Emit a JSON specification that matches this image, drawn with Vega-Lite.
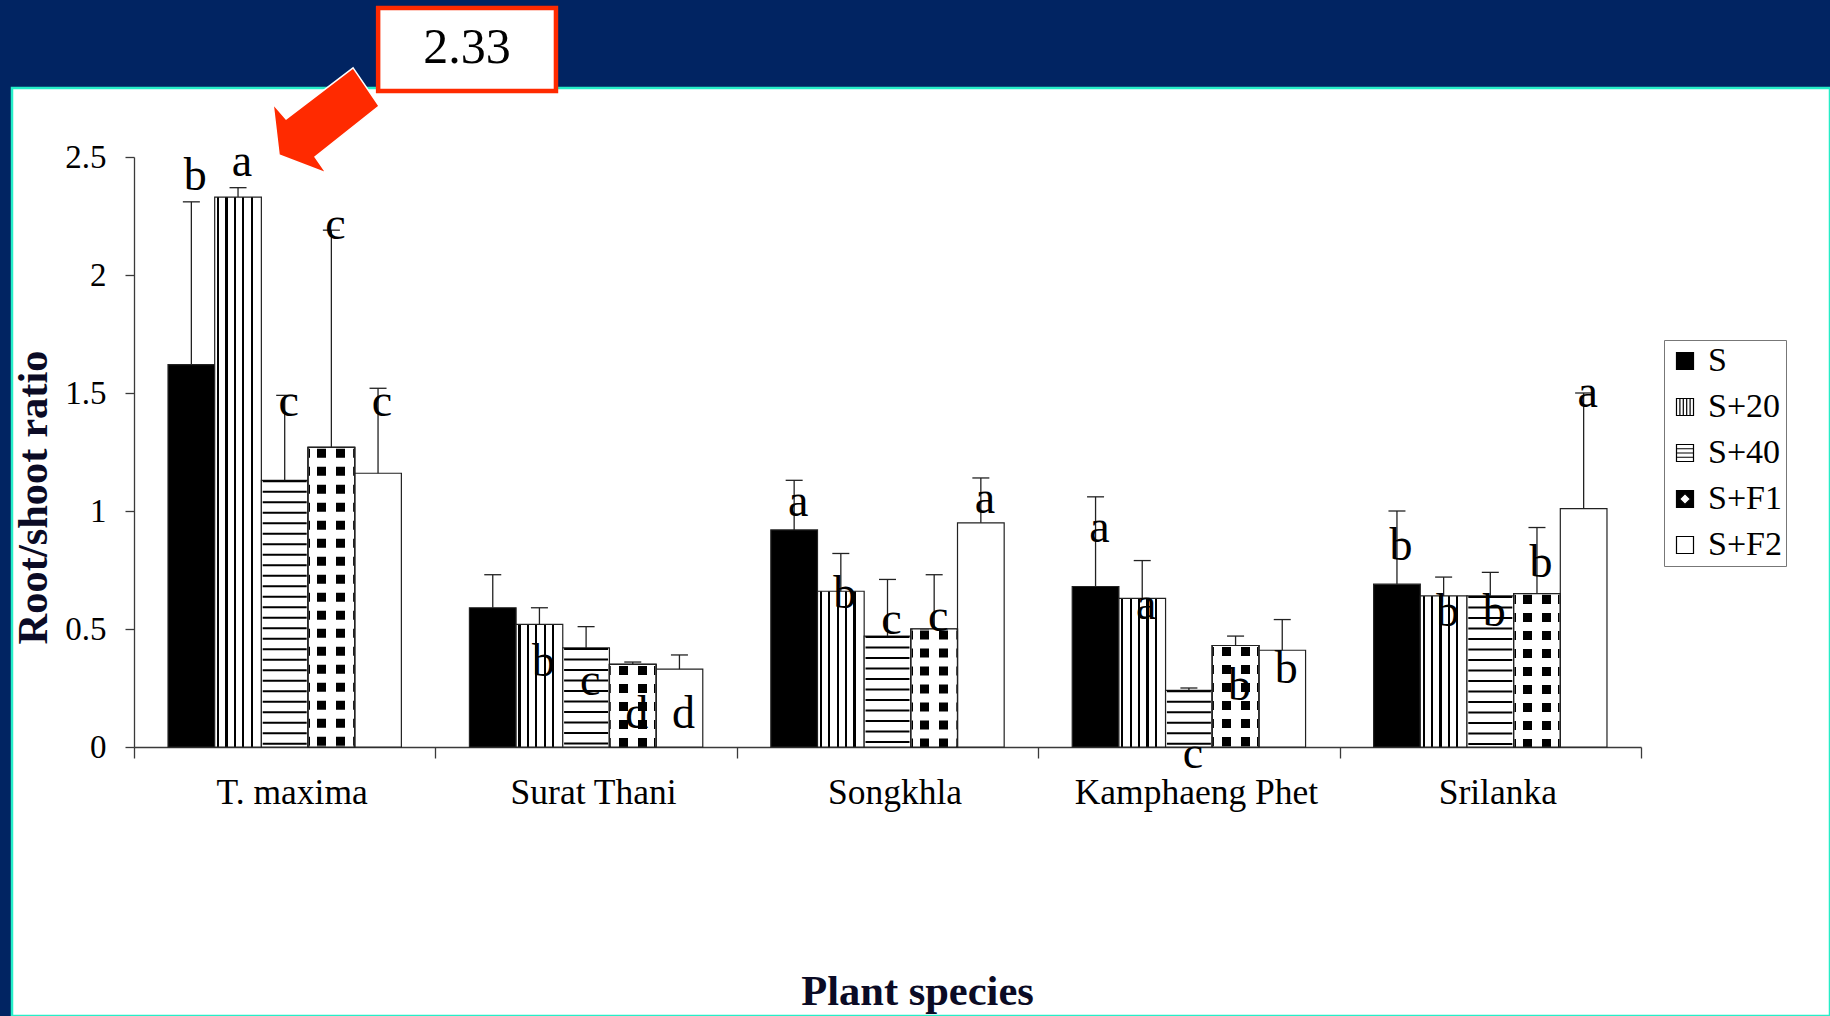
{
  "$schema": "https://vega.github.io/schema/vega-lite/v6.json",
  "width": 1818,
  "height": 928,
  "autosize": {"type": "none"},
  "padding": {"left": 12, "top": 88, "right": 0, "bottom": 0},
  "background": "#012462",
  "config": {"view": {"fill": "white", "stroke": "#25EEC8", "strokeWidth": 2.5}, "font": "Liberation Serif"},
  "data": {"values": [
    {"site": "T. maxima", "trt": "S", "value": 1.62, "errTop": 2.31, "letter": "b", "letterAt": 2.42},
    {"site": "T. maxima", "trt": "S+20", "value": 2.33, "errTop": 2.37, "letter": "a", "letterAt": 2.48},
    {"site": "T. maxima", "trt": "S+40", "value": 1.13, "errTop": 1.49, "letter": "c", "letterAt": 1.46},
    {"site": "T. maxima", "trt": "S+F1", "value": 1.27, "errTop": 2.19, "letter": "c", "letterAt": 2.21},
    {"site": "T. maxima", "trt": "S+F2", "value": 1.16, "errTop": 1.52, "letter": "c", "letterAt": 1.46},
    {"site": "Surat Thani", "trt": "S", "value": 0.59, "errTop": 0.73, "letter": "", "letterAt": null},
    {"site": "Surat Thani", "trt": "S+20", "value": 0.52, "errTop": 0.59, "letter": "b", "letterAt": 0.36},
    {"site": "Surat Thani", "trt": "S+40", "value": 0.42, "errTop": 0.51, "letter": "c", "letterAt": 0.28},
    {"site": "Surat Thani", "trt": "S+F1", "value": 0.35, "errTop": 0.36, "letter": "d", "letterAt": 0.14},
    {"site": "Surat Thani", "trt": "S+F2", "value": 0.33, "errTop": 0.39, "letter": "d", "letterAt": 0.14},
    {"site": "Songkhla", "trt": "S", "value": 0.92, "errTop": 1.13, "letter": "a", "letterAt": 1.04},
    {"site": "Songkhla", "trt": "S+20", "value": 0.66, "errTop": 0.82, "letter": "b", "letterAt": 0.65},
    {"site": "Songkhla", "trt": "S+40", "value": 0.47, "errTop": 0.71, "letter": "c", "letterAt": 0.54},
    {"site": "Songkhla", "trt": "S+F1", "value": 0.5, "errTop": 0.73, "letter": "c", "letterAt": 0.55},
    {"site": "Songkhla", "trt": "S+F2", "value": 0.95, "errTop": 1.14, "letter": "a", "letterAt": 1.05},
    {"site": "Kamphaeng Phet", "trt": "S", "value": 0.68, "errTop": 1.06, "letter": "a", "letterAt": 0.93},
    {"site": "Kamphaeng Phet", "trt": "S+20", "value": 0.63, "errTop": 0.79, "letter": "a", "letterAt": 0.6},
    {"site": "Kamphaeng Phet", "trt": "S+40", "value": 0.24, "errTop": 0.25, "letter": "c", "letterAt": -0.03},
    {"site": "Kamphaeng Phet", "trt": "S+F1", "value": 0.43, "errTop": 0.47, "letter": "b", "letterAt": 0.26},
    {"site": "Kamphaeng Phet", "trt": "S+F2", "value": 0.41, "errTop": 0.54, "letter": "b", "letterAt": 0.33},
    {"site": "Srilanka", "trt": "S", "value": 0.69, "errTop": 1.0, "letter": "b", "letterAt": 0.85},
    {"site": "Srilanka", "trt": "S+20", "value": 0.64, "errTop": 0.72, "letter": "b", "letterAt": 0.57},
    {"site": "Srilanka", "trt": "S+40", "value": 0.64, "errTop": 0.74, "letter": "b", "letterAt": 0.57},
    {"site": "Srilanka", "trt": "S+F1", "value": 0.65, "errTop": 0.93, "letter": "b", "letterAt": 0.78},
    {"site": "Srilanka", "trt": "S+F2", "value": 1.01, "errTop": 1.5, "letter": "a", "letterAt": 1.5}
  ]},
  "resolve": {"scale": {"x": "independent", "y": "independent"}},
  "layer": [
    {
      "encoding": {
        "x": {
          "field": "site", "type": "nominal", "sort": null,
          "scale": {"range": [122, 1629], "paddingInner": 0, "paddingOuter": 0},
          "axis": {
            "title": "Plant species", "offset": -269, "tickBand": "extent", "tickSize": 11,
            "domainColor": "#3a3a3a", "tickColor": "#3a3a3a", "domainWidth": 1.3, "tickWidth": 1.3,
            "labelFont": "Liberation Serif", "labelFontSize": 35.5, "labelColor": "#000", "labelAngle": 0,
            "labelBaseline": "middle", "labelPadding": 34, "labelLimit": 400, "labelOffset": 7,
            "titleFont": "Liberation Serif", "titleFontSize": 42.5, "titleFontWeight": "bold", "titleColor": "#0B0B25",
            "titleX": 905, "titleY": 257, "titleBaseline": "alphabetic", "titleAlign": "center"
          }
        },
        "xOffset": {"field": "trt", "type": "nominal", "sort": null, "scale": {"paddingInner": 0, "paddingOuter": 0.729}},
        "y": {
          "field": "value", "type": "quantitative", "title": "Root/shoot ratio",
          "scale": {"domain": [0, 2.5], "range": [659, 69], "nice": false, "zero": false},
          "axis": {
            "values": [0, 0.5, 1, 1.5, 2, 2.5], "format": ".1~f", "offset": -122, "grid": false,
            "domainColor": "#3a3a3a", "domainWidth": 1.3, "tickColor": "#3a3a3a", "tickWidth": 1.3, "tickSize": 9,
            "labelFont": "Liberation Serif", "labelFontSize": 33, "labelColor": "#000", "labelPadding": 19,
            "labelFlush": false, "labelOverlap": false,
            "titleFont": "Liberation Serif", "titleFontSize": 42.5, "titleFontWeight": "bold", "titleColor": "#0B0B25",
            "titleAngle": 270, "titleAlign": "center", "titleBaseline": "middle", "titleX": -101, "titleY": 409
          }
        }
      },
      "layer": [
        {
          "mark": {"type": "bar", "stroke": "#222", "strokeWidth": 1.2},
          "encoding": {
            "fill": {
              "field": "trt", "type": "nominal", "sort": null,
              "scale": {"domain": ["S", "S+20", "S+40", "S+F1", "S+F2"], "range": ["#000000", "#ffffff", "#ffffff", "#000000", "#ffffff"]},
              "condition": {"test": "datum.trt === 'S+20'", "value": {"gradient": "linear", "x1": 0, "y1": 0, "x2": 1, "y2": 0, "stops": [
                {"offset": 0, "color": "#fff"}, {"offset": 0.05, "color": "#fff"}, {"offset": 0.05, "color": "#000"}, {"offset": 0.095, "color": "#000"}, {"offset": 0.095, "color": "#fff"},
                {"offset": 0.23, "color": "#fff"}, {"offset": 0.23, "color": "#000"}, {"offset": 0.275, "color": "#000"}, {"offset": 0.275, "color": "#fff"},
                {"offset": 0.41, "color": "#fff"}, {"offset": 0.41, "color": "#000"}, {"offset": 0.455, "color": "#000"}, {"offset": 0.455, "color": "#fff"},
                {"offset": 0.59, "color": "#fff"}, {"offset": 0.59, "color": "#000"}, {"offset": 0.635, "color": "#000"}, {"offset": 0.635, "color": "#fff"},
                {"offset": 0.77, "color": "#fff"}, {"offset": 0.77, "color": "#000"}, {"offset": 0.815, "color": "#000"}, {"offset": 0.815, "color": "#fff"},
                {"offset": 1, "color": "#fff"}]}},
              "legend": {
                "title": null, "orient": "none", "legendX": 1652, "legendY": 252,
                "symbolType": "square", "symbolSize": 289, "symbolStrokeColor": "#000", "symbolStrokeWidth": 1,
                "labelFont": "Liberation Serif", "labelFontSize": 34, "labelColor": "#000", "labelOffset": 6, "labelLimit": 300,
                "rowPadding": 12, "padding": 4, "strokeColor": "#777", "fillColor": "#fff",
                "encode": {"symbols": {"update": {
                  "stroke": {"value": "#000"}, "strokeWidth": {"value": 1.2},
                  "shape": {"signal": "datum.value === 'S+20' ? 'M-1,-1H1V1H-1Z M-0.6,-1V1 M-0.2,-1V1 M0.2,-1V1 M0.6,-1V1' : datum.value === 'S+40' ? 'M-1,-1H1V1H-1Z M-1,-0.5H1 M-1,0H1 M-1,0.5H1' : datum.value === 'S+F1' ? 'M-1,-1H1V1H-1Z M0,-0.65L-0.65,0L0,0.65L0.65,0Z' : 'square'"}
                }}}
              }
            }
          }
        },
        {
          "transform": [{"filter": "datum.trt === 'S+F1'"}],
          "mark": {"type": "bar", "fill": "#ffffff", "stroke": "#222", "strokeWidth": 1.2}
        },
        {
          "transform": [{"filter": "datum.trt === 'S+40'"}],
          "mark": {"type": "rule", "stroke": "#000", "strokeWidth": 44, "strokeDash": [2, 8.5], "strokeCap": "butt"},
          "encoding": {"y2": {"datum": 0}}
        },
        {
          "transform": [{"filter": "datum.trt === 'S+F1'"}],
          "mark": {"type": "rule", "stroke": "#000", "strokeWidth": 45, "strokeDash": [9, 9], "strokeDashOffset": 16.5, "strokeCap": "butt"},
          "encoding": {"y2": {"datum": 0}}
        },
        {
          "transform": [{"filter": "datum.trt === 'S+F1'"}],
          "mark": {"type": "bar", "stroke": "#222", "strokeWidth": 1.2, "fill": {"gradient": "linear", "x1": 0, "y1": 0, "x2": 1, "y2": 0, "stops": [
            {"offset": 0, "color": "rgba(255,255,255,0)"}, {"offset": 0.04, "color": "rgba(255,255,255,0)"}, {"offset": 0.04, "color": "#fff"}, {"offset": 0.2, "color": "#fff"},
            {"offset": 0.2, "color": "rgba(255,255,255,0)"}, {"offset": 0.393, "color": "rgba(255,255,255,0)"}, {"offset": 0.393, "color": "#fff"}, {"offset": 0.607, "color": "#fff"},
            {"offset": 0.607, "color": "rgba(255,255,255,0)"}, {"offset": 0.8, "color": "rgba(255,255,255,0)"}, {"offset": 0.8, "color": "#fff"}, {"offset": 0.96, "color": "#fff"},
            {"offset": 0.96, "color": "rgba(255,255,255,0)"}, {"offset": 1, "color": "rgba(255,255,255,0)"}]}}
        },
        {
          "mark": {"type": "rule", "stroke": "#222", "strokeWidth": 1.3},
          "encoding": {"y2": {"field": "errTop"}}
        },
        {
          "mark": {"type": "tick", "color": "#222", "size": 17, "thickness": 1.3, "opacity": 1},
          "encoding": {"y": {"field": "errTop", "type": "quantitative", "title": "Root/shoot ratio"}}
        },
        {
          "transform": [{"filter": "datum.letter !== ''"}],
          "mark": {"type": "text", "font": "Liberation Serif", "fontSize": 46, "baseline": "middle", "align": "center", "color": "#000", "dx": 4},
          "encoding": {
            "y": {"field": "letterAt", "type": "quantitative", "title": "Root/shoot ratio"},
            "text": {"field": "letter"}
          }
        }
      ]
    },
    {
      "data": {"values": [{}]},
      "encoding": {
        "x": {"type": "quantitative", "scale": {"domain": [0, 5], "range": [122, 1629], "nice": false, "zero": false}, "axis": null},
        "y": {"type": "quantitative", "scale": {"domain": [0, 2.5], "range": [659, 69], "nice": false, "zero": false}, "axis": null}
      },
      "layer": [
        {
          "mark": {"type": "point", "shape": "M0.517,-0.867L0.95,-0.233L-0.117,0.617L0.067,0.883L-0.717,0.583L-0.817,-0.267L-0.6,-0.017Z", "size": 14400, "filled": true, "fill": "#FF2A00", "stroke": "#ffffff", "strokeWidth": 1.5, "opacity": 1},
          "encoding": {"x": {"datum": 0.624, "type": "quantitative"}, "y": {"datum": 2.657, "type": "quantitative"}}
        },
        {
          "mark": {"type": "rect", "fill": "#ffffff", "stroke": "#FF2A00", "strokeWidth": 4.5},
          "encoding": {
            "x": {"datum": 0.81, "type": "quantitative"}, "x2": {"datum": 1.4},
            "y": {"datum": 3.131, "type": "quantitative"}, "y2": {"datum": 2.78}
          }
        },
        {
          "mark": {"type": "text", "text": "2.33", "font": "Liberation Serif", "fontSize": 50, "align": "center", "baseline": "middle", "color": "#000"},
          "encoding": {"x": {"datum": 1.105, "type": "quantitative"}, "y": {"datum": 2.962, "type": "quantitative"}}
        }
      ]
    }
  ]
}
